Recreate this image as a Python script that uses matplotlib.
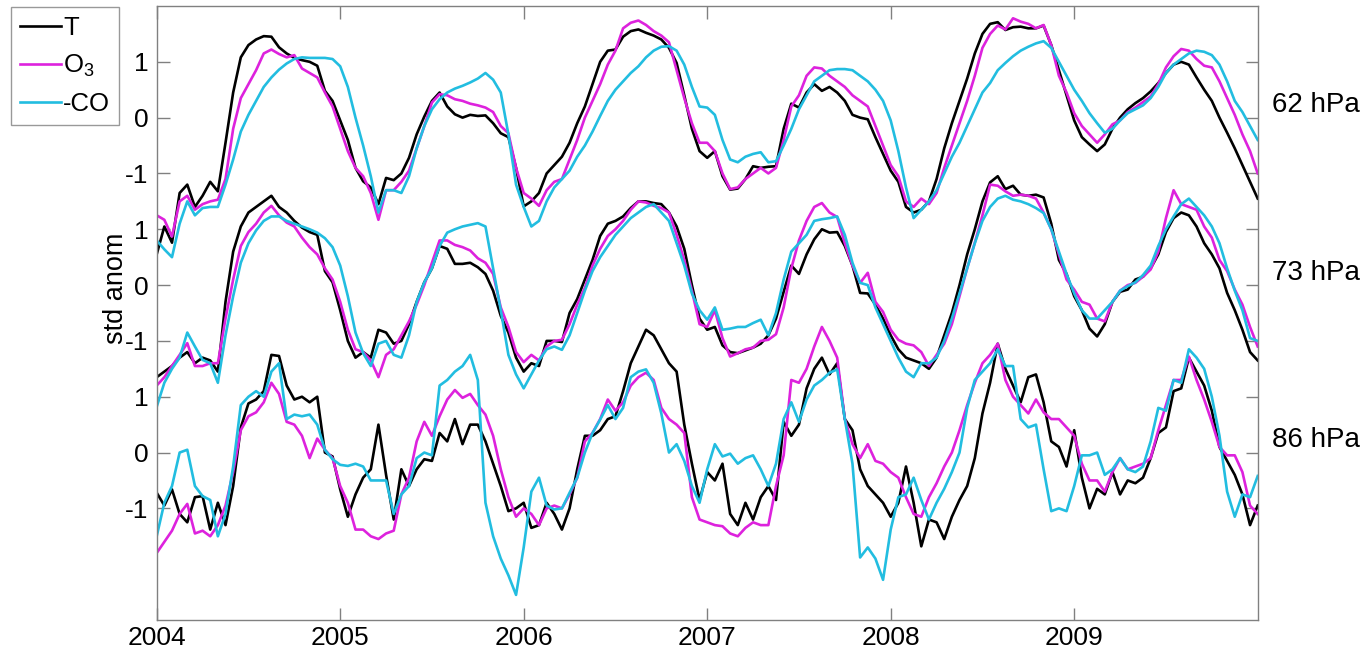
import numpy as np
import matplotlib
matplotlib.use("Agg")
import matplotlib.pyplot as plt

plt.rcParams['font.family'] = ['Liberation Sans', 'DejaVu Sans']
plt.rcParams['mathtext.fontset'] = 'custom'
plt.rcParams['mathtext.rm'] = 'Liberation Sans'
plt.rcParams['mathtext.it'] = 'Liberation Sans'

# ---- data: standardized anomalies, sampled every half month 2004.0 - 2010.0 ----
t = 2004 + np.arange(145) / 24.0

levels = ["62 hPa", "73 hPa", "86 hPa"]
series_names = ["T", "O$_3$", "-CO"]
year_ticks = [2004, 2005, 2006, 2007, 2008, 2009]
ytick_labels = ["-1", "0", "1"]

T62 = [-2.45, -1.95, -2.24, -1.35, -1.2, -1.6, -1.4, -1.15, -1.32, -0.45, 0.45, 1.08,
       1.3, 1.4, 1.46, 1.45, 1.26, 1.15, 1.07, 1.03, 1.0, 0.93, 0.48, 0.3,
       -0.05, -0.4, -0.9, -1.14, -1.25, -1.55, -1.08, -1.12, -1.0, -0.72, -0.3, 0.02,
       0.3, 0.45, 0.2, 0.06, 0.0, 0.05, 0.03, 0.04, -0.1, -0.28, -0.35, -0.9,
       -1.59, -1.5, -1.35, -1.0, -0.85, -0.7, -0.45, -0.1, 0.2, 0.6, 1.0, 1.2,
       1.22, 1.45, 1.55, 1.58, 1.52, 1.47, 1.4, 1.25, 0.98, 0.4, -0.2, -0.6,
       -0.72, -0.6, -1.05, -1.29, -1.27, -1.1, -0.87, -0.9, -0.88, -0.87, -0.2, 0.25,
       0.18, 0.45, 0.6, 0.48, 0.55, 0.45, 0.3, 0.05, 0.0, -0.03, -0.35, -0.65,
       -0.95, -1.15, -1.6, -1.7, -1.65, -1.5, -1.1, -0.55, -0.1, 0.3, 0.7, 1.15,
       1.5, 1.68, 1.71, 1.57, 1.62, 1.63, 1.6, 1.6, 1.65, 1.3, 0.85, 0.4,
       -0.05, -0.35, -0.48, -0.6, -0.48, -0.2, 0.0, 0.15, 0.26, 0.35, 0.47, 0.62,
       0.8, 0.95, 1.0, 0.95, 0.72, 0.5, 0.3, 0.0, -0.27, -0.55, -0.85, -1.15,
       -1.45]
O3_62 = [-1.75, -1.83, -2.13, -1.5, -1.4, -1.65, -1.55, -1.5, -1.47, -1.1, -0.2, 0.35,
         0.6, 0.85, 1.15, 1.22, 1.14, 1.08, 1.12, 0.88, 0.8, 0.72, 0.45, 0.2,
         -0.2, -0.6, -0.9, -1.05, -1.35, -1.83, -1.3, -1.3, -1.15, -0.95, -0.55, -0.15,
         0.27, 0.42, 0.4, 0.33, 0.3, 0.25, 0.22, 0.18, 0.1, -0.15, -0.28, -0.9,
         -1.35, -1.45, -1.58, -1.3, -1.15, -1.1, -0.75, -0.4, 0.0, 0.3, 0.6, 0.95,
         1.2, 1.6, 1.7, 1.74, 1.66, 1.55, 1.47, 1.35, 0.85, 0.35, -0.1, -0.45,
         -0.45, -0.6, -1.0, -1.28, -1.25, -1.1, -1.0, -0.9, -1.0, -0.9, -0.4, 0.2,
         0.4, 0.75, 0.9, 0.88, 0.75, 0.65, 0.55, 0.4, 0.3, 0.2, -0.15, -0.5,
         -0.85, -1.05, -1.5, -1.6, -1.45, -1.55, -1.35, -0.9, -0.5, -0.1, 0.3, 0.75,
         1.25, 1.5, 1.65, 1.58, 1.78, 1.72, 1.68, 1.6, 1.66, 1.3, 0.75, 0.45,
         0.08, -0.15, -0.3, -0.45, -0.3, -0.12, -0.05, 0.1, 0.18, 0.28, 0.38, 0.6,
         0.9, 1.1, 1.23, 1.2, 1.05, 0.93, 0.9, 0.65, 0.35, 0.05, -0.3, -0.6,
         -1.0]
CO_62 = [-2.2, -2.36, -2.5, -1.9, -1.5, -1.75, -1.62, -1.6, -1.6, -1.2, -0.75, -0.25,
         0.05, 0.3, 0.55, 0.72, 0.86, 0.97, 1.05, 1.08, 1.07, 1.07, 1.07, 1.05,
         0.92, 0.55, 0.0, -0.5, -1.05, -1.7, -1.3, -1.3, -1.35, -1.05, -0.55, -0.15,
         0.15, 0.33, 0.45, 0.52, 0.57, 0.63, 0.7, 0.8, 0.68, 0.45, -0.3, -1.2,
         -1.6, -1.95, -1.85, -1.5, -1.25, -1.1, -0.95, -0.7, -0.5, -0.25, 0.03, 0.3,
         0.5, 0.65, 0.8, 0.92, 1.08, 1.2, 1.27, 1.28, 1.2, 0.95, 0.55, 0.2,
         0.18, 0.05, -0.4, -0.75, -0.8, -0.7, -0.65, -0.62, -0.8, -0.78, -0.5, -0.2,
         0.15, 0.4, 0.65, 0.75, 0.85, 0.87, 0.87, 0.85, 0.75, 0.65, 0.5, 0.3,
         -0.05, -0.6, -1.25, -1.8, -1.65, -1.5, -1.3, -1.0, -0.7, -0.45, -0.15, 0.15,
         0.45, 0.62, 0.85, 0.98, 1.1, 1.2, 1.27, 1.33, 1.37, 1.25, 1.0, 0.75,
         0.5, 0.3, 0.08, -0.1, -0.27, -0.2, -0.05, 0.08, 0.15, 0.22, 0.35, 0.55,
         0.8, 0.95, 1.05, 1.15, 1.2, 1.18, 1.12, 0.95, 0.65, 0.3, 0.1, -0.15,
         -0.4]

T73 = [-1.65, -1.55, -1.45, -1.3, -1.2, -1.4, -1.3, -1.35, -1.55, -0.3, 0.6, 1.05,
       1.3, 1.4, 1.5, 1.6, 1.4, 1.3, 1.15, 1.03, 0.95, 0.9, 0.25, 0.05,
       -0.45, -1.0, -1.3, -1.2, -1.3, -0.8, -0.85, -1.05, -1.0, -0.7, -0.3, 0.05,
       0.3, 0.7, 0.65, 0.38, 0.38, 0.4, 0.32, 0.2, -0.1, -0.55, -0.85, -1.3,
       -1.55, -1.4, -1.45, -1.0, -1.0, -1.02, -0.5, -0.25, 0.1, 0.45, 0.88, 1.1,
       1.15, 1.23, 1.38, 1.5, 1.5, 1.47, 1.45, 1.3, 1.05, 0.65, 0.0, -0.6,
       -0.8, -0.75, -1.08, -1.2, -1.22, -1.17, -1.12, -1.05, -0.9, -0.6, -0.12, 0.35,
       0.2, 0.55, 0.82, 1.0, 0.94, 0.95, 0.7, 0.35, -0.14, -0.15, -0.35, -0.6,
       -0.9, -1.15, -1.3, -1.35, -1.4, -1.5, -1.3, -0.9, -0.5, 0.0, 0.55, 1.0,
       1.5, 1.84, 1.95, 1.72, 1.78, 1.62, 1.6, 1.62, 1.57, 1.1, 0.45, 0.2,
       -0.2, -0.45, -0.78, -0.92, -0.7, -0.3, -0.12, -0.08, 0.1, 0.15, 0.3, 0.55,
       0.95, 1.2, 1.3, 1.25, 1.05, 0.75, 0.55, 0.3, -0.14, -0.45, -0.8, -1.2,
       -1.35]
O3_73 = [-1.8, -1.65, -1.45, -1.25, -1.04, -1.45, -1.45, -1.4, -1.4, -0.6, 0.1, 0.7,
         0.95, 1.1, 1.3, 1.42, 1.25, 1.12, 1.05, 0.85, 0.68, 0.55, 0.3, 0.1,
         -0.3, -0.8, -1.15, -1.2, -1.35, -1.65, -1.25, -1.15, -0.9, -0.65, -0.35, 0.0,
         0.4, 0.8, 0.8, 0.72, 0.68, 0.62, 0.48, 0.4, 0.2, -0.4, -0.75, -1.2,
         -1.38, -1.25, -1.35, -1.1, -1.0, -0.98, -0.7, -0.35, -0.05, 0.35, 0.65, 0.88,
         1.0, 1.15, 1.35, 1.5, 1.48, 1.42, 1.38, 1.3, 0.9, 0.45, -0.1, -0.7,
         -0.75, -0.45, -0.95, -1.28, -1.22, -1.15, -1.12, -1.0, -0.98, -0.88, -0.4, 0.3,
         0.8, 1.15, 1.4, 1.47, 1.3, 1.22, 0.75, 0.35, 0.04, 0.22, -0.3, -0.48,
         -0.8, -0.98, -1.05, -1.08, -1.2, -1.45, -1.25, -1.05, -0.7, -0.2, 0.3, 0.76,
         1.25, 1.8, 1.78, 1.68, 1.6, 1.62, 1.6, 1.55, 1.3, 1.0, 0.55, 0.1,
         -0.08, -0.3, -0.35, -0.6, -0.65, -0.3, -0.1, 0.0, 0.04, 0.15, 0.28, 0.6,
         1.2, 1.7, 1.45, 1.4, 1.35, 1.05, 0.85, 0.45, 0.25, -0.08, -0.35, -0.75,
         -1.1]
CO_73 = [-2.18, -1.75, -1.5, -1.3, -0.85, -1.1, -1.34, -1.4, -1.75, -0.9, -0.2, 0.4,
         0.75, 0.98, 1.15, 1.23, 1.23, 1.15, 1.1, 1.05, 1.0, 0.94, 0.84, 0.68,
         0.35, -0.2, -0.85, -1.22, -1.45, -1.05, -1.0, -1.25, -1.3, -0.9, -0.3, 0.05,
         0.3, 0.7, 0.94, 1.0, 1.05, 1.08, 1.11, 1.05, 0.3, -0.45, -1.25, -1.6,
         -1.85, -1.6, -1.35, -1.15, -1.1, -1.16, -0.9, -0.5, -0.1, 0.25, 0.5, 0.7,
         0.9, 1.05, 1.2, 1.3, 1.4, 1.45, 1.3, 1.15, 0.75, 0.35, -0.15, -0.45,
         -0.62, -0.4, -0.8, -0.78, -0.75, -0.75, -0.68, -0.62, -0.9, -0.5, 0.1, 0.6,
         0.75, 0.9, 1.15, 1.18, 1.2, 1.23, 0.9, 0.4, 0.04, 0.0, -0.4, -0.7,
         -1.0, -1.3, -1.55, -1.65, -1.4, -1.4, -1.3, -1.0, -0.6, -0.15, 0.3, 0.75,
         1.15, 1.4, 1.55, 1.6, 1.53, 1.5, 1.45, 1.38, 1.29, 1.0, 0.6, 0.2,
         -0.15, -0.45, -0.6, -0.6, -0.45, -0.3, -0.1, -0.02, 0.05, 0.18, 0.35, 0.7,
         1.0, 1.23, 1.45, 1.55, 1.4, 1.25, 1.05, 0.75, 0.3, -0.1, -0.45, -0.95,
         -1.0]

T86 = [-0.72, -0.95, -0.66, -1.1, -1.25, -0.8, -0.78, -1.38, -0.9, -1.3, -0.6, 0.45,
       0.88, 0.95, 1.1, 1.75, 1.73, 1.2, 0.95, 1.0, 0.9, 1.0, 0.0, -0.07,
       -0.66, -1.15, -0.75, -0.45, -0.3, 0.5, -0.4, -1.2, -0.3, -0.6, -0.3, -0.12,
       -0.15, 0.35, 0.2, 0.6, 0.15, 0.5, 0.5, 0.2, -0.2, -0.6, -1.05, -1.0,
       -0.9, -1.35, -1.3, -0.9, -1.1, -1.38, -1.0, -0.3, 0.3, 0.3, 0.4, 0.6,
       0.65, 1.1, 1.6, 1.9, 2.2, 2.1, 1.85, 1.6, 1.45, 0.5, -0.2, -0.85,
       -0.35, -0.5, -0.2, -1.1, -1.3, -0.9, -1.2, -0.8, -0.6, -0.85, 0.55, 0.3,
       0.5, 1.15, 1.5, 1.7, 1.4, 1.6, 0.6, 0.4, -0.3, -0.6, -0.75, -0.9,
       -1.15, -0.9, -0.25, -0.9, -1.68, -1.2, -1.25, -1.55, -1.15, -0.85, -0.6, -0.1,
       0.7, 1.25, 1.95, 1.5, 1.2, 0.9, 1.35, 1.4, 0.9, 0.2, 0.1, -0.25,
       0.4, -0.45, -1.0, -0.65, -0.75, -0.35, -0.75, -0.5, -0.55, -0.45, -0.1, 0.35,
       0.45, 1.1, 1.15, 1.7, 1.45, 1.2, 0.75, 0.1, -0.15, -0.4, -0.75, -1.3,
       -0.95]
O3_86 = [-1.8, -1.6, -1.4, -1.1, -0.92, -1.45, -1.4, -1.5, -1.3, -0.95, -0.35, 0.4,
         0.65, 0.72, 0.9, 1.25, 1.05, 0.55, 0.5, 0.3, -0.1, 0.25, 0.05, -0.1,
         -0.6, -0.9, -1.38, -1.38, -1.5, -1.55, -1.45, -1.4, -0.75, -0.45, 0.2, 0.55,
         0.3, 0.65, 0.95, 1.12, 0.98, 1.05, 0.85, 0.68, 0.3, -0.3, -0.8, -1.15,
         -1.0, -1.1, -1.3, -1.0, -0.95, -1.0, -0.75, -0.45, 0.2, 0.35, 0.6, 0.95,
         0.75, 0.9, 1.2, 1.35, 1.43, 1.3, 0.8, 0.6, 0.5, 0.35, -0.8, -1.2,
         -1.25, -1.3, -1.32, -1.45, -1.5, -1.35, -1.25, -1.3, -1.3, -0.6, -0.05, 1.3,
         1.25, 1.5, 1.9, 2.25, 2.0, 1.7, 0.6, 0.15, -0.1, 0.15, -0.15, -0.2,
         -0.35, -0.45, -0.8, -1.1, -1.15, -0.8, -0.55, -0.25, 0.0, 0.4, 0.85, 1.25,
         1.6, 1.75, 1.95, 1.3, 1.0, 0.85, 0.7, 0.95, 0.72, 0.6, 0.6, 0.45,
         0.3, -0.2, -0.5, -0.5, -0.7, -0.35, -0.1, -0.3, -0.25, -0.2, -0.1, 0.4,
         0.85, 1.3, 1.3, 1.72, 1.3, 0.95, 0.55, 0.1, -0.05, -0.05, -0.35, -0.95,
         -1.1]
CO_86 = [-1.5, -0.9, -0.6, 0.0, 0.05, -0.6, -0.78, -0.85, -1.5, -1.1, -0.25, 0.85,
         1.0, 1.1, 1.0, 1.45, 1.6, 0.6, 0.68, 0.65, 0.68, 0.5, 0.05, -0.12,
         -0.22, -0.24, -0.2, -0.25, -0.5, -0.5, -0.5, -1.1, -0.75, -0.6, -0.1, 0.0,
         -0.05, 1.2, 1.3, 1.45, 1.55, 1.75, 1.3, -0.9, -1.5, -1.9, -2.2, -2.55,
         -1.7, -0.7, -0.45, -0.95, -1.02, -1.0, -0.72, -0.45, 0.0, 0.35, 0.59, 0.85,
         0.6, 0.8, 1.35, 1.45, 1.49, 1.25, 0.7, 0.0, 0.15, -0.15, -0.6, -0.9,
         -0.3, 0.15, -0.07, -0.02, -0.2, -0.1, -0.05, -0.3, -0.6, -0.2, 0.6, 0.9,
         0.55, 0.95, 1.2, 1.3, 1.43, 1.49, 0.6, -0.2, -1.88, -1.7, -1.9, -2.28,
         -1.38, -0.8, -0.75, -0.45, -0.85, -1.2, -0.9, -0.65, -0.35, 0.0, 0.8, 1.3,
         1.45, 1.6, 1.85, 1.55, 1.55, 0.6, 0.45, 0.5, -0.3, -1.05, -1.0, -1.05,
         -0.6, -0.05, -0.05, 0.0, -0.4, -0.3, -0.1, -0.3, -0.35, -0.25, 0.2, 0.8,
         0.75, 1.3, 1.25, 1.85, 1.7, 1.5, 1.0, 0.3, -0.7, -1.15, -0.75, -0.8,
         -0.42]

panels = [(T62, O3_62, CO_62), (T73, O3_73, CO_73), (T86, O3_86, CO_86)]

# ---- styling / layout ----
colors = ["#000000", "#dd22dd", "#22bde0"]
offsets = [6, 3, 0]
W, H = 1369, 654
fig = plt.figure(figsize=(W / 100, H / 100), dpi=100)
ax = fig.add_axes([156.7 / W, 34 / H, (1257.7 - 156.7) / W, (620 - 6) / H])

handles = []
for (series, off) in zip(panels, offsets):
    for vals, c, name in zip(series, colors, series_names):
        ln, = ax.plot(t, np.asarray(vals) + off, color=c, lw=1.9, label=name,
                      solid_joinstyle='round')
        if off == 6:
            handles.append(ln)

ax.set_xlim(2004, 2010)
ax.set_ylim(-3, 8)
ax.set_xticks(year_ticks)
ax.set_xticklabels([str(y) for y in year_ticks])
yt = [o + v for o in offsets[::-1] for v in (-1, 0, 1)]
ax.set_yticks(yt)
ax.set_yticklabels(ytick_labels * 3)

spine_c = "#808080"
for s in ax.spines.values():
    s.set_color(spine_c)
    s.set_linewidth(1.0)
ax.tick_params(axis='both', direction='in', length=9, width=1.0, color=spine_c,
               labelsize=19, labelcolor='black', top=True, right=True, pad=6)
ax.tick_params(axis='x', pad=4)

for lab, off in zip(levels, offsets):
    ax.text(2010.08, off + 0.22, lab, fontsize=20, ha='left', va='center',
            clip_on=False)

fig.text(116 / W, 1 - 288 / H, "std anom", rotation=90, fontsize=19.5,
         ha='center', va='center')

leg = fig.legend(handles=handles, loc='upper left',
                 bbox_to_anchor=(10.7 / W, 1 - 7.3 / H),
                 bbox_transform=fig.transFigure, fontsize=18.5, frameon=True,
                 fancybox=False, handlelength=1.6, handletextpad=0.1,
                 borderpad=0.35, labelspacing=0.5, borderaxespad=0)
leg.get_frame().set_edgecolor(spine_c)
leg.get_frame().set_linewidth(1.0)

fig.savefig("out.png", dpi=100)
